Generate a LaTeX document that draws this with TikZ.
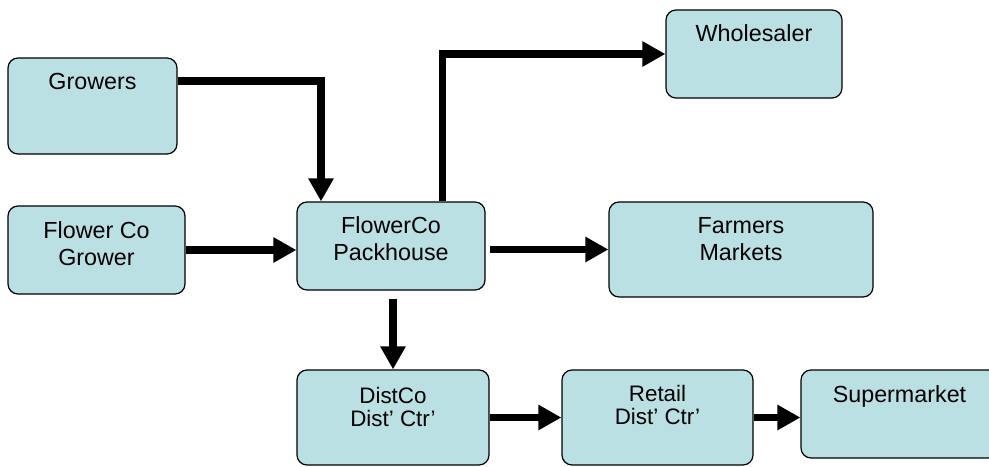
\documentclass[tikz,border=0pt]{standalone}
\usepackage{fontspec}
\setmainfont{Liberation Sans}
\usetikzlibrary{positioning,arrows.meta}
\definecolor{boxfill}{RGB}{186,224,227}
\tikzset{
  box/.style={draw, line width=0.6pt, fill=boxfill, rounded corners=5pt, inner sep=0pt},
  txt/.style={inner sep=0pt, align=center, font=\fontsize{11.65pt}{13.5pt}\selectfont},
  txtlow/.style={txt, font=\fontsize{11.2pt}{11.5pt}\selectfont},
  flow/.style={line width=3.7pt, -{Triangle[length=11.5pt,width=12pt]}},
}
\begin{document}
\begin{tikzpicture}[x=0.5pt, y=-0.5pt]
	  \useasboundingbox (0,0) rectangle (989,466);
	  \node[box, minimum width=84.5pt, minimum height=48pt] (Gr) at (92.5,106) {};
	  \node[box, minimum width=88.5pt, minimum height=44pt] (FCG) at (96.5,250) {};
	  \node[box, minimum width=94pt, minimum height=44pt] (PH) at (391,246) {};
	  \node[box, minimum width=88pt, minimum height=44pt] (W) at (754,54) {};
	  \node[box, minimum width=132pt, minimum height=47.5pt] (FM) at (741,249.5) {};
	  \node[box, minimum width=96pt, minimum height=47.5pt] (DC) at (393,417.5) {};
	  \node[box, minimum width=95.5pt, minimum height=47.5pt] (RD) at (657.5,417.5) {};
	  \node[box, minimum width=98.5pt, minimum height=44pt] (SM) at (899.5,414) {};
	  % box texts
	  \node[txt, below=7.5pt of Gr.north] (Gr-t) {Growers};
	  \node[txt, below=8pt of FCG.north] (FCG-t) {Flower Co\\Grower};
	  \node[txt, below=7.5pt of PH.north] (PH-t) {FlowerCo\\Packhouse};
	  \node[txt, below=7.5pt of W.north] (W-t) {Wholesaler};
	  \node[txt, below=8pt of FM.north] (FM-t) {Farmers\\Markets};
	  \node[txtlow, below=8.5pt of DC.north] (DC-t) {DistCo\\Dist’ Ctr’};
	  \node[txtlow, below=7.5pt of RD.north] (RD-t) {Retail\\Dist’ Ctr’};
	  \node[txt, below=8pt of SM.north] (SM-t) {Supermarket};
	  % flows
	  \draw[flow] (Gr.east |- Gr-t) -| ([xshift=-35pt]PH.north);
	  \draw[flow] (FCG.east) -- (FCG.east -| PH.west);
	  \draw[flow] ([xshift=25.75pt]PH.north) |- (W.west);
	  \draw[flow, shorten <=2pt] (PH.east |- FM.west) -- (FM.west);
	  \draw[flow, shorten <=4pt] (PH.south -| DC.north) -- (DC.north);
	  \draw[flow] (DC.east) -- (RD.west);
	  \draw[flow] (RD.east) -- (RD.east -| SM.west);
	\end{tikzpicture}
\end{document}
